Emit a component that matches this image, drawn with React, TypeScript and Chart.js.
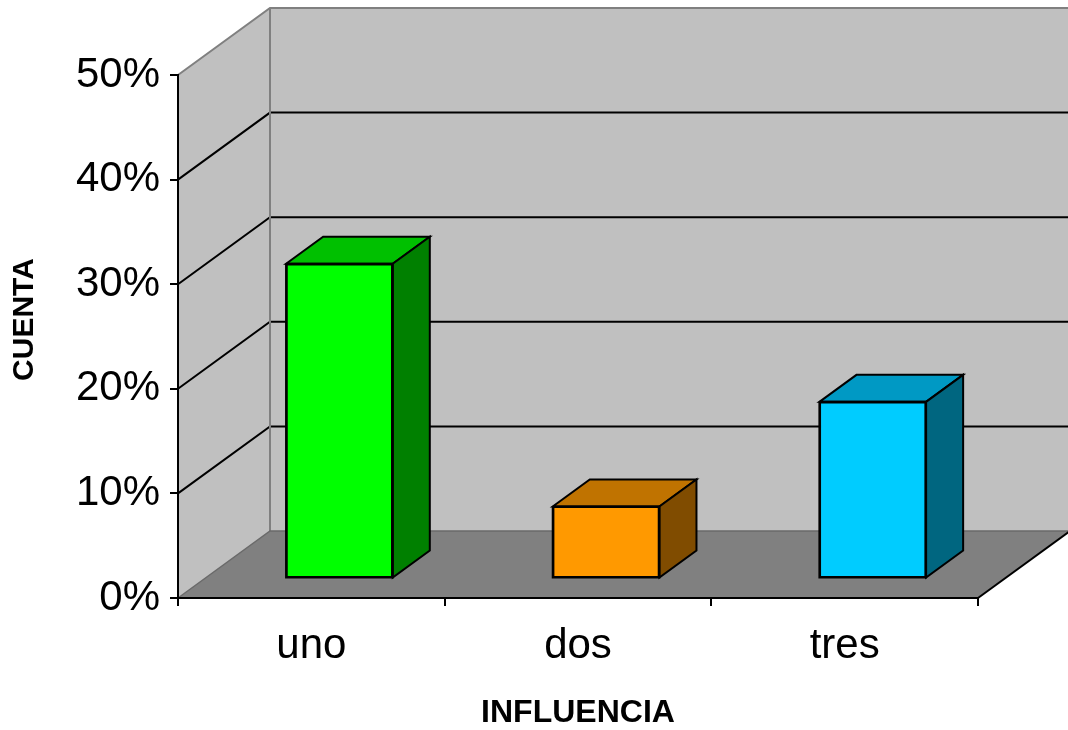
import React, { useEffect, useRef } from 'react';
import { Chart, registerables } from 'chart.js';

Chart.register(...registerables);

// ---- data ----
const categories = ['uno', 'dos', 'tres'];
const values = [30, 6.8, 16.8];
const yMax = 50;
const yStep = 10;
const xTitle = 'INFLUENCIA';
const yTitle = 'CUENTA';

// ---- styles ----
const frontColors = ['#00FF00', '#FF9900', '#00CCFF'];
const topColors = ['#00C000', '#C07300', '#0099C4'];
const sideColors = ['#008000', '#804C00', '#006680'];
const WALL = '#C0C0C0';
const FLOOR = '#808080';
const EDGE = '#808080';
const FONT = '"Liberation Sans", Arial, sans-serif';

// layout / 3D geometry
const W = 1068;
const H = 730;
const PAD_TOP = 75;
const PAD_RIGHT = 90;
const Y_AXIS_W = 178;
const X_AXIS_H = 132;
const PLOT_W = W - Y_AXIS_W - PAD_RIGHT;
const PLOT_H = H - X_AXIS_H - PAD_TOP;
const DEPTH_X = 92;
const DEPTH_Y = 67;
const BAR_FRONT = 0.305;
const BAR_BACK = 0.708;
const BAR_FRACTION = 0.4;

const shiftX = (BAR_FRONT * DEPTH_X) / (PLOT_W / categories.length);
const shiftY = (BAR_FRONT * DEPTH_Y) / (PLOT_H / yMax);
const barThickness = (BAR_FRACTION * PLOT_W) / categories.length;

function poly(ctx: CanvasRenderingContext2D, pts: number[][], fill: string | null, stroke: string | null, lw = 2) {
  ctx.beginPath();
  pts.forEach((p, i) => (i === 0 ? ctx.moveTo(p[0], p[1]) : ctx.lineTo(p[0], p[1])));
  ctx.closePath();
  if (fill) {
    ctx.fillStyle = fill;
    ctx.fill();
  }
  if (stroke) {
    ctx.strokeStyle = stroke;
    ctx.lineWidth = lw;
    ctx.stroke();
  }
}

function line(ctx: CanvasRenderingContext2D, pts: number[][], color: string, lw = 2) {
  ctx.beginPath();
  pts.forEach((p, i) => (i === 0 ? ctx.moveTo(p[0], p[1]) : ctx.lineTo(p[0], p[1])));
  ctx.strokeStyle = color;
  ctx.lineWidth = lw;
  ctx.stroke();
}

const box3d = {
  id: 'box3d',
  beforeDraw(chart: any) {
    const { ctx, chartArea: ca, scales } = chart;
    const ys = scales.y;
    const y0 = ys.getPixelForValue(0);
    const yT = ys.getPixelForValue(yMax);
    const xl = ca.left;
    const xr = ca.right;
    const dx = DEPTH_X;
    const dy = DEPTH_Y;
    ctx.save();
    // back wall
    poly(ctx, [[xl + dx, yT - dy], [xr + dx, yT - dy], [xr + dx, y0 - dy], [xl + dx, y0 - dy]], WALL, null);
    // left wall
    poly(ctx, [[xl, yT], [xl + dx, yT - dy], [xl + dx, y0 - dy], [xl, y0]], WALL, null);
    // floor
    poly(ctx, [[xl, y0], [xl + dx, y0 - dy], [xr + dx, y0 - dy], [xr, y0]], FLOOR, null);
    // gridlines
    ys.ticks.forEach((t: any) => {
      const v = t.value;
      if (v <= 0 || v >= yMax) return;
      const py = ys.getPixelForValue(v);
      line(ctx, [[xl, py], [xl + dx, py - dy], [xr + dx, py - dy]], '#000', 2);
    });
    // edges
    line(ctx, [[xl, yT], [xl + dx, yT - dy], [xr + dx, yT - dy]], EDGE, 2);
    line(ctx, [[xl + dx, yT - dy], [xl + dx, y0 - dy]], EDGE, 2);
    line(ctx, [[xl, y0], [xl + dx, y0 - dy], [xr + dx, y0 - dy]], '#6A6A6A', 1.5);
    line(ctx, [[xr, y0], [xr + dx, y0 - dy]], '#000', 2);
    ctx.restore();
  },
  afterDatasetsDraw(chart: any) {
    const { ctx } = chart;
    const meta = chart.getDatasetMeta(0);
    const ddx = (BAR_BACK - BAR_FRONT) * DEPTH_X;
    const ddy = (BAR_BACK - BAR_FRONT) * DEPTH_Y;
    ctx.save();
    ctx.lineJoin = 'miter';
    meta.data.forEach((bar: any, i: number) => {
      const { x, y, base, width } = bar.getProps(['x', 'y', 'base', 'width'], true);
      const l = x - width / 2;
      const r = x + width / 2;
      poly(ctx, [[l, y], [l + ddx, y - ddy], [r + ddx, y - ddy], [r, y]], topColors[i], '#000', 2);
      poly(ctx, [[r, y], [r + ddx, y - ddy], [r + ddx, base - ddy], [r, base]], sideColors[i], '#000', 2);
      line(ctx, [[l, y], [r, y], [r, base], [l, base], [l, y]], '#000', 2);
    });
    ctx.restore();
  },
  afterDraw(chart: any) {
    const { ctx, chartArea: ca } = chart;
    ctx.save();
    ctx.translate(25, (ca.top + ca.bottom) / 2 - 17);
    ctx.rotate(-Math.PI / 2);
    ctx.font = `bold 30px ${FONT}`;
    ctx.textAlign = 'center';
    ctx.textBaseline = 'middle';
    ctx.fillStyle = '#000';
    ctx.fillText(yTitle, 0, 0);
    ctx.restore();
  },
};

export default function App() {
  const ref = useRef<HTMLCanvasElement | null>(null);

  useEffect(() => {
    if (!ref.current) return;
    const chart = new Chart(ref.current, {
      type: 'bar',
      data: {
        labels: categories,
        datasets: [
          {
            data: values.map((v, i) => ({ x: i, y: v })) as any,
            xAxisID: 'xb',
            yAxisID: 'yb',
            backgroundColor: frontColors,
            borderColor: '#000',
            borderWidth: 2,
            borderSkipped: false,
            barThickness: barThickness,
          } as any,
        ],
      },
      options: {
        responsive: false,
        animation: false,
        devicePixelRatio: 1,
        layout: { padding: { left: 0, top: PAD_TOP, right: PAD_RIGHT, bottom: 0 } },
        plugins: { legend: { display: false }, tooltip: { enabled: false }, title: { display: false } },
        scales: {
          x: {
            type: 'category',
            offset: true,
            grid: { offset: true, drawOnChartArea: false, drawTicks: true, tickLength: 8, color: '#000', lineWidth: 2 },
            border: { display: true, color: '#000', width: 2 },
            ticks: { color: '#000', font: { family: FONT, size: 42 }, padding: 15, maxRotation: 0 },
            title: {
              display: true,
              text: xTitle,
              color: '#000',
              font: { family: FONT, size: 32, weight: 'bold', lineHeight: 1 },
              padding: { top: 0, bottom: 1 },
            },
            afterFit: (s: any) => {
              s.height = X_AXIS_H;
            },
          },
          y: {
            type: 'linear',
            min: 0,
            max: yMax,
            grid: { drawOnChartArea: false, drawTicks: true, tickLength: 8, color: '#000', lineWidth: 2 },
            border: { display: true, color: '#000', width: 2 },
            ticks: {
              stepSize: yStep,
              color: '#000',
              padding: 10,
              font: { family: FONT, size: 42 },
              callback: (v: any) => `${v}%`,
            },
            afterFit: (s: any) => {
              s.width = Y_AXIS_W;
            },
          },
          xb: {
            type: 'linear',
            display: false,
            offset: false,
            grid: { offset: false },
            bounds: 'data',
            min: -0.5 - shiftX,
            max: categories.length - 0.5 - shiftX,
          },
          yb: {
            type: 'linear',
            display: false,
            offset: false,
            bounds: 'data',
            min: -shiftY,
            max: yMax - shiftY,
          },
        } as any,
      },
      plugins: [box3d],
    });
    return () => chart.destroy();
  }, []);

  return (
    <div style={{ position: 'absolute', left: 0, top: 0, width: W, height: H, background: '#fff' }}>
      <canvas ref={ref} width={W} height={H} style={{ display: 'block' }} />
    </div>
  );
}
